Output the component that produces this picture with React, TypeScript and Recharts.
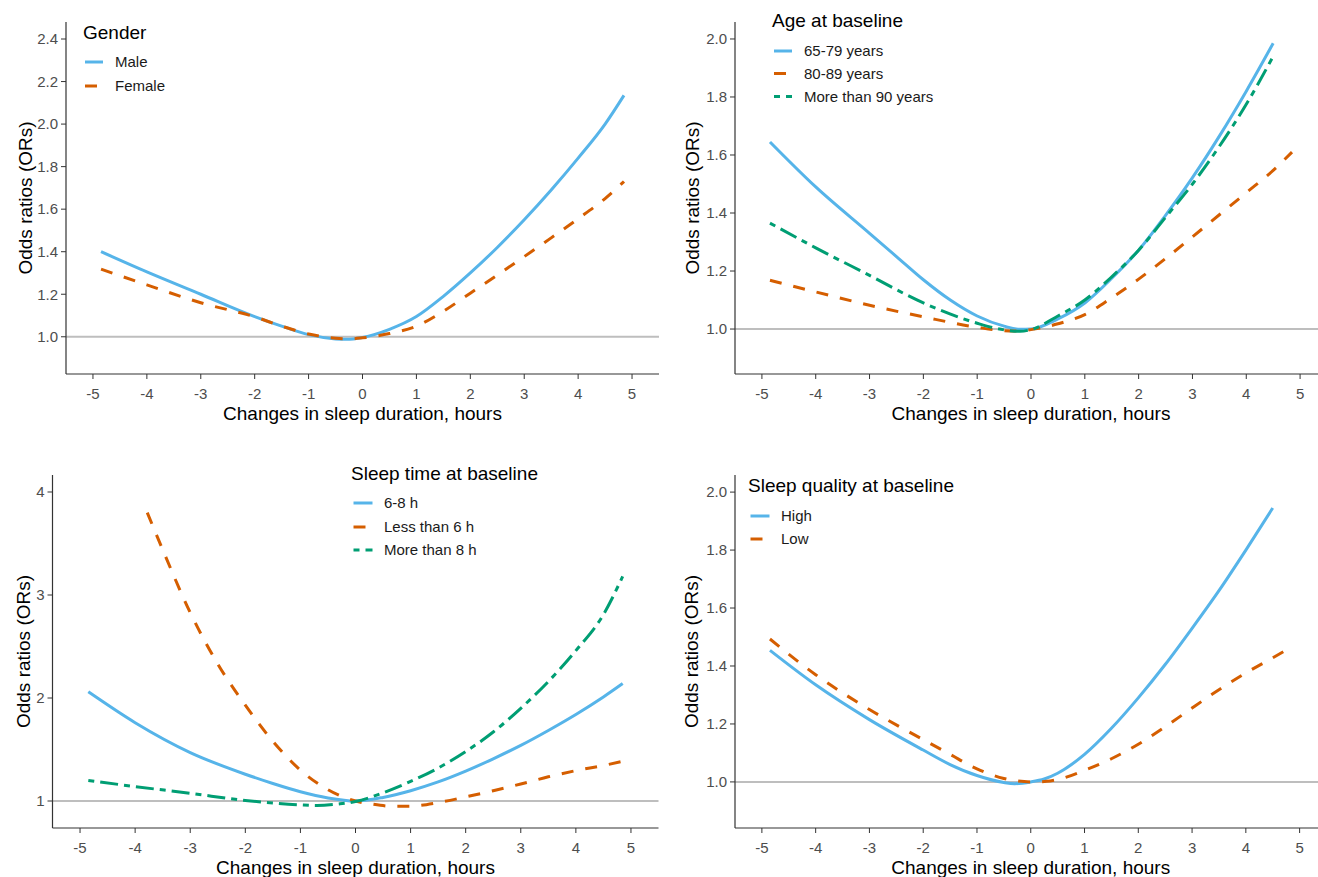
import React from "react";
import { LineChart, Line, XAxis, YAxis, ReferenceLine, Legend } from "recharts";

const FONT = "'Liberation Sans', Arial, sans-serif";
const BLUE = "#56B4E9";
const ORANGE = "#D55E00";
const GREEN = "#009E73";
const DASHED = "12 12";
const TWODASH = "6 6 18 6";

const X_TICKS = [-5, -4, -3, -2, -1, 0, 1, 2, 3, 4, 5];
const X_TITLE = "Changes in sleep duration, hours";
const Y_TITLE = "Odds ratios (ORs)";

// [change in sleep duration, OR]
const male: [number, number][] = [
  [-4.85, 1.4], [-4, 1.305], [-3, 1.2], [-2, 1.095], [-1.5, 1.05], [-1, 1.01], [-0.5, 0.99], [-0.3, 0.988],
  [0, 0.997], [0.5, 1.035], [1, 1.095], [1.5, 1.19], [2, 1.3], [2.5, 1.42], [3, 1.55], [3.5, 1.69],
  [4, 1.84], [4.5, 2.0], [4.85, 2.135],
];
const female: [number, number][] = [
  [-4.85, 1.318], [-4, 1.244], [-3, 1.16], [-2, 1.094], [-1.5, 1.05], [-1, 1.013], [-0.5, 0.993], [-0.25, 0.99],
  [0, 0.995], [0.5, 1.015], [1, 1.05], [1.5, 1.12], [2, 1.205], [2.5, 1.29], [3, 1.377], [3.5, 1.465],
  [4, 1.555], [4.5, 1.65], [4.85, 1.73],
];

const age6579: [number, number][] = [
  [-4.85, 1.645], [-4, 1.49], [-3, 1.33], [-2.5, 1.25], [-2, 1.17], [-1.5, 1.1], [-1, 1.045], [-0.5, 1.01],
  [-0.2, 0.999], [0, 1.0], [0.5, 1.035], [1, 1.09], [1.5, 1.175], [2, 1.272], [2.5, 1.392], [3, 1.522],
  [3.5, 1.665], [4, 1.82], [4.5, 1.985],
];
const age8089: [number, number][] = [
  [-4.85, 1.168], [-4, 1.128], [-3, 1.082], [-2, 1.042], [-1, 1.006], [-0.5, 0.994], [-0.3, 0.993], [0, 0.998],
  [0.5, 1.018], [1, 1.05], [1.5, 1.108], [2, 1.172], [2.5, 1.243], [3, 1.318], [3.5, 1.394], [4, 1.47],
  [4.5, 1.547], [4.85, 1.61],
];
const age90: [number, number][] = [
  [-4.85, 1.365], [-4, 1.28], [-3, 1.185], [-2, 1.09], [-1, 1.02], [-0.5, 0.997], [-0.2, 0.992], [0, 0.998],
  [0.5, 1.045], [1, 1.1], [1.5, 1.18], [2, 1.272], [2.5, 1.385], [3, 1.5], [3.5, 1.63], [4, 1.775],
  [4.5, 1.94],
];

const sleep68: [number, number][] = [
  [-4.85, 2.06], [-4, 1.76], [-3, 1.47], [-2, 1.26], [-1.5, 1.17], [-1, 1.09], [-0.5, 1.03], [0, 1.0],
  [0.5, 1.035], [1, 1.1], [1.5, 1.185], [2, 1.29], [2.5, 1.41], [3, 1.54], [3.5, 1.685], [4, 1.84],
  [4.5, 2.01], [4.85, 2.14],
];
const sleepLess6: [number, number][] = [
  [-3.78, 3.8], [-3.5, 3.44], [-3, 2.83], [-2.5, 2.33], [-2, 1.93], [-1.5, 1.58], [-1, 1.3], [-0.5, 1.11],
  [0, 1.0], [0.3, 0.97], [0.7, 0.948], [1, 0.95], [1.5, 0.985], [2, 1.04], [2.5, 1.1], [3, 1.165],
  [3.5, 1.235], [4, 1.295], [4.5, 1.345], [4.85, 1.385],
];
const sleepMore8: [number, number][] = [
  [-4.85, 1.2], [-4, 1.14], [-3, 1.075], [-2, 1.005], [-1.5, 0.98], [-1, 0.962], [-0.7, 0.956], [-0.3, 0.972],
  [0, 0.995], [0.5, 1.08], [1, 1.19], [1.5, 1.32], [2, 1.48], [2.5, 1.67], [3, 1.9], [3.5, 2.16],
  [4, 2.46], [4.5, 2.81], [4.85, 3.18],
];

const qualityHigh: [number, number][] = [
  [-4.85, 1.454], [-4, 1.335], [-3, 1.215], [-2, 1.11], [-1.5, 1.06], [-1, 1.022], [-0.5, 0.998], [-0.3, 0.994],
  [0, 1.0], [0.25, 1.01], [0.5, 1.03], [1, 1.095], [1.5, 1.185], [2, 1.29], [2.5, 1.405], [3, 1.53],
  [3.5, 1.66], [4, 1.8], [4.5, 1.945],
];
const qualityLow: [number, number][] = [
  [-4.85, 1.493], [-4, 1.37], [-3, 1.25], [-2, 1.146], [-1.5, 1.095], [-1, 1.045], [-0.5, 1.012], [0, 1.0],
  [0.3, 1.002], [0.5, 1.008], [1, 1.04], [1.5, 1.08], [2, 1.13], [2.5, 1.19], [3, 1.255], [3.5, 1.318],
  [4, 1.376], [4.5, 1.428], [4.8, 1.46],
];

const TICKS_24 = [1.0, 1.2, 1.4, 1.6, 1.8, 2.0, 2.2, 2.4];
const TICKS_20 = [1.0, 1.2, 1.4, 1.6, 1.8, 2.0];
const TICKS_4 = [1, 2, 3, 4];

interface Series {
  name: string;
  points: [number, number][];
  color: string;
  dash?: string;
}

interface PanelCfg {
  left: number;
  top: number;
  width: number;
  height: number;
  x0: number;
  x1: number;
  y0: number;
  y1: number;
  yDomain: [number, number];
  yTicks: number[];
  decimals: number;
  yTitleX: number;
  legendTitle: string;
  titleX: number;
  titleMid: number;
  keyX0: number;
  keyX1: number;
  textX: number;
  rows: number[];
  series: Series[];
}

const panels: PanelCfg[] = [
  {
    left: 0, top: 0, width: 659, height: 438, x0: 66, x1: 659, y0: 22, y1: 374,
    yDomain: [0.825, 2.48], yTicks: TICKS_24, decimals: 1, yTitleX: 31.5,
    legendTitle: "Gender", titleX: 83, titleMid: 32, keyX0: 85, keyX1: 103, textX: 115, rows: [62, 86],
    series: [
      { name: "Male", points: male, color: BLUE },
      { name: "Female", points: female, color: ORANGE, dash: DASHED },
    ],
  },
  {
    left: 659, top: 0, width: 668, height: 438, x0: 76, x1: 668, y0: 22, y1: 374,
    yDomain: [0.845, 2.0585], yTicks: TICKS_20, decimals: 1, yTitleX: 40,
    legendTitle: "Age at baseline", titleX: 113, titleMid: 20, keyX0: 115, keyX1: 133, textX: 145,
    rows: [51, 73.5, 96.5],
    series: [
      { name: "65-79 years", points: age6579, color: BLUE },
      { name: "80-89 years", points: age8089, color: ORANGE, dash: DASHED },
      { name: "More than 90 years", points: age90, color: GREEN, dash: TWODASH },
    ],
  },
  {
    left: 0, top: 438, width: 659, height: 439, x0: 52.5, x1: 658.5, y0: 37, y1: 390,
    yDomain: [0.738, 4.165], yTicks: TICKS_4, decimals: 0, yTitleX: 30,
    legendTitle: "Sleep time at baseline", titleX: 351, titleMid: 35, keyX0: 353.5, keyX1: 372.5, textX: 384,
    rows: [65, 89, 112],
    series: [
      { name: "6-8 h", points: sleep68, color: BLUE },
      { name: "Less than 6 h", points: sleepLess6, color: ORANGE, dash: DASHED },
      { name: "More than 8 h", points: sleepMore8, color: GREEN, dash: TWODASH },
    ],
  },
  {
    left: 659, top: 438, width: 668, height: 439, x0: 76, x1: 667.5, y0: 37, y1: 390,
    yDomain: [0.841, 2.059], yTicks: TICKS_20, decimals: 1, yTitleX: 39,
    legendTitle: "Sleep quality at baseline", titleX: 89, titleMid: 47, keyX0: 91.5, keyX1: 110.5, textX: 122,
    rows: [78, 101],
    series: [
      { name: "High", points: qualityHigh, color: BLUE },
      { name: "Low", points: qualityLow, color: ORANGE, dash: DASHED },
    ],
  },
];

const YW = 40;

function Panel({ cfg }: { cfg: PanelCfg }) {
  const { width: W, height: H, x0, x1, y0, y1 } = cfg;
  const cx = (x0 + x1) / 2;
  const cy = (y0 + y1) / 2;

  const legendContent = () => (
    <svg width={W} height={H} style={{ display: "block", fontFamily: FONT }}>
      <text x={cfg.titleX} y={cfg.titleMid + 6.8} fontSize={19} fill="#000">
        {cfg.legendTitle}
      </text>
      {cfg.series.map((s, i) => (
        <g key={s.name}>
          <line
            x1={cfg.keyX0}
            x2={cfg.keyX1}
            y1={cfg.rows[i]}
            y2={cfg.rows[i]}
            stroke={s.color}
            strokeWidth={3}
            strokeDasharray={s.dash}
          />
          <text x={cfg.textX} y={cfg.rows[i] + 5.4} fontSize={15} fill="#1A1A1A">
            {s.name}
          </text>
        </g>
      ))}
    </svg>
  );

  return (
    <div style={{ position: "absolute", left: cfg.left, top: cfg.top, width: W, height: H }}>
      <LineChart
        width={W}
        height={H}
        margin={{ top: y0, right: W - x1, bottom: 0, left: x0 - YW }}
        style={{ fontFamily: FONT }}
      >
        <XAxis
          type="number"
          dataKey="x"
          domain={[-5.5, 5.5]}
          ticks={X_TICKS}
          interval={0}
          allowDataOverflow
          height={H - y1}
          axisLine={{ stroke: "#333", strokeWidth: 1.2 }}
          tickLine={{ stroke: "#333" }}
          tickSize={5}
          tickMargin={9}
          tick={{ fill: "#4D4D4D", fontSize: 15, fontFamily: FONT }}
          label={() => (
            <text x={cx} y={y1 + 46} textAnchor="middle" fontSize={19} fill="#000" fontFamily={FONT}>
              {X_TITLE}
            </text>
          )}
        />
        <YAxis
          type="number"
          domain={cfg.yDomain}
          ticks={cfg.yTicks}
          interval={0}
          allowDataOverflow
          width={YW}
          axisLine={{ stroke: "#333", strokeWidth: 1.2 }}
          tickLine={{ stroke: "#333" }}
          tickSize={5}
          tickMargin={3}
          tick={{ fill: "#4D4D4D", fontSize: 15, fontFamily: FONT }}
          tickFormatter={(v: number) => v.toFixed(cfg.decimals)}
          label={() => (
            <text
              x={cfg.yTitleX}
              y={cy}
              transform={`rotate(-90 ${cfg.yTitleX} ${cy})`}
              textAnchor="middle"
              fontSize={19}
              fill="#000"
              fontFamily={FONT}
            >
              {Y_TITLE}
            </text>
          )}
        />
        <ReferenceLine y={1} stroke="#BEBEBE" strokeWidth={2} />
        {cfg.series.map((s) => (
          <Line
            key={s.name}
            data={s.points.map(([x, y]) => ({ x, y }))}
            dataKey="y"
            name={s.name}
            type="monotone"
            stroke={s.color}
            strokeWidth={3}
            strokeDasharray={s.dash}
            dot={false}
            activeDot={false}
            isAnimationActive={false}
          />
        ))}
        <Legend
          layout="vertical"
          align="center"
          verticalAlign="middle"
          content={legendContent}
          wrapperStyle={{ left: 0, top: 0, width: W, height: H, pointerEvents: "none" }}
        />
      </LineChart>
    </div>
  );
}

export default function App() {
  return (
    <div
      style={{
        position: "absolute",
        left: 0,
        top: 0,
        width: 1318,
        height: 877,
        overflow: "hidden",
        background: "#fff",
        fontFamily: FONT,
      }}
    >
      {panels.map((p) => (
        <Panel key={p.legendTitle} cfg={p} />
      ))}
    </div>
  );
}
